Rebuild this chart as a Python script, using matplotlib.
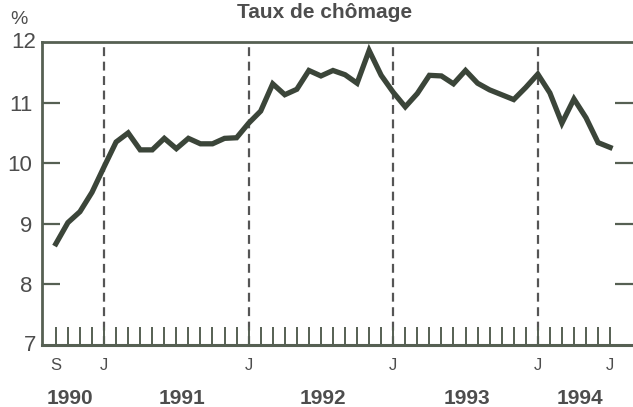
import matplotlib
matplotlib.use("Agg")
import matplotlib.pyplot as plt

# monthly unemployment rate, Sep 1990 .. Jul 1994
rate = [8.67, 9.02, 9.20, 9.52, 9.94, 10.35, 10.50, 10.22, 10.22, 10.41,
        10.24, 10.41, 10.32, 10.32, 10.41, 10.42, 10.66, 10.86, 11.31, 11.13,
        11.22, 11.53, 11.44, 11.53, 11.46, 11.32, 11.86, 11.45, 11.17, 10.93,
        11.15, 11.45, 11.44, 11.31, 11.53, 11.32, 11.21, 11.13, 11.05, 11.25,
        11.47, 11.16, 10.66, 11.06, 10.75, 10.34, 10.26]
month_labels = {0: "S", 4: "J", 16: "J", 28: "J", 40: "J", 46: "J"}
jan_idx = [4, 16, 28, 40]
years = ["1990", "1991", "1992", "1993", "1994"]
year_pos = [1.2, 10.5, 22.2, 34.1, 43.5]
yticks = [8, 9, 10, 11]

txt = "#4d4d4d"
ink = "#3b4539"
frame = "#566053"
plt.rcParams["font.family"] = ["Liberation Sans", "DejaVu Sans"]

fig = plt.figure(figsize=(6.33, 4.07), dpi=100)
ax = fig.add_axes([42 / 633, 1 - 345 / 407, 1 - 42 / 633, 303 / 407])

months = list(range(len(rate)))
ax.plot(months, rate, color=ink, lw=3.8, solid_joinstyle="miter", zorder=3)

for j in jan_idx:
    ax.axvline(j, color="#555555", lw=1.6, ls=(0, (4, 2.5)), zorder=1)

ax.set_xlim(-1.15, 47.9)
ax.set_ylim(7, 12)

# frame drawn by hand: left, top, bottom
for s in ax.spines.values():
    s.set_visible(False)
ax.axhline(12, color=frame, lw=2, clip_on=False, zorder=4)
ax.axhline(7, color=frame, lw=2.2, clip_on=False, zorder=4)
ax.axvline(-1.15, color=frame, lw=2, clip_on=False, zorder=4)

# monthly ticks pointing up from the bottom axis
ax.set_xticks(months)
ax.set_xticklabels([month_labels.get(m, "") for m in months])
ax.tick_params(axis="x", direction="in", length=13, width=1.4, color=frame,
               labelsize=12, labelcolor=txt, pad=9)

ax.set_yticks(yticks)
ax.tick_params(axis="y", direction="in", length=13, width=1.6, color=frame,
               labelsize=16, labelcolor=txt, pad=7, right=True)
for lab, v in [("12", 12), ("7", 7)]:
    ax.text(-0.01, v, lab, transform=ax.get_yaxis_transform(), ha="right",
            va="center", fontsize=16, color=txt)
ax.yaxis.set_tick_params(which="major", labelleft=True)

for y, p in zip(years, year_pos):
    ax.text(p, -0.175, y, transform=ax.get_xaxis_transform(), ha="center",
            va="center", fontsize=15, fontweight="bold", color=txt)

fig.text(325 / 633, 1 - 12 / 407, "Taux de chômage", ha="center", va="center",
         fontsize=15, fontweight="bold", color=txt)
fig.text(19 / 633, 1 - 20 / 407, "%", ha="center", va="center",
         fontsize=14, color=txt)

fig.savefig("out.png", dpi=100, facecolor="white")
